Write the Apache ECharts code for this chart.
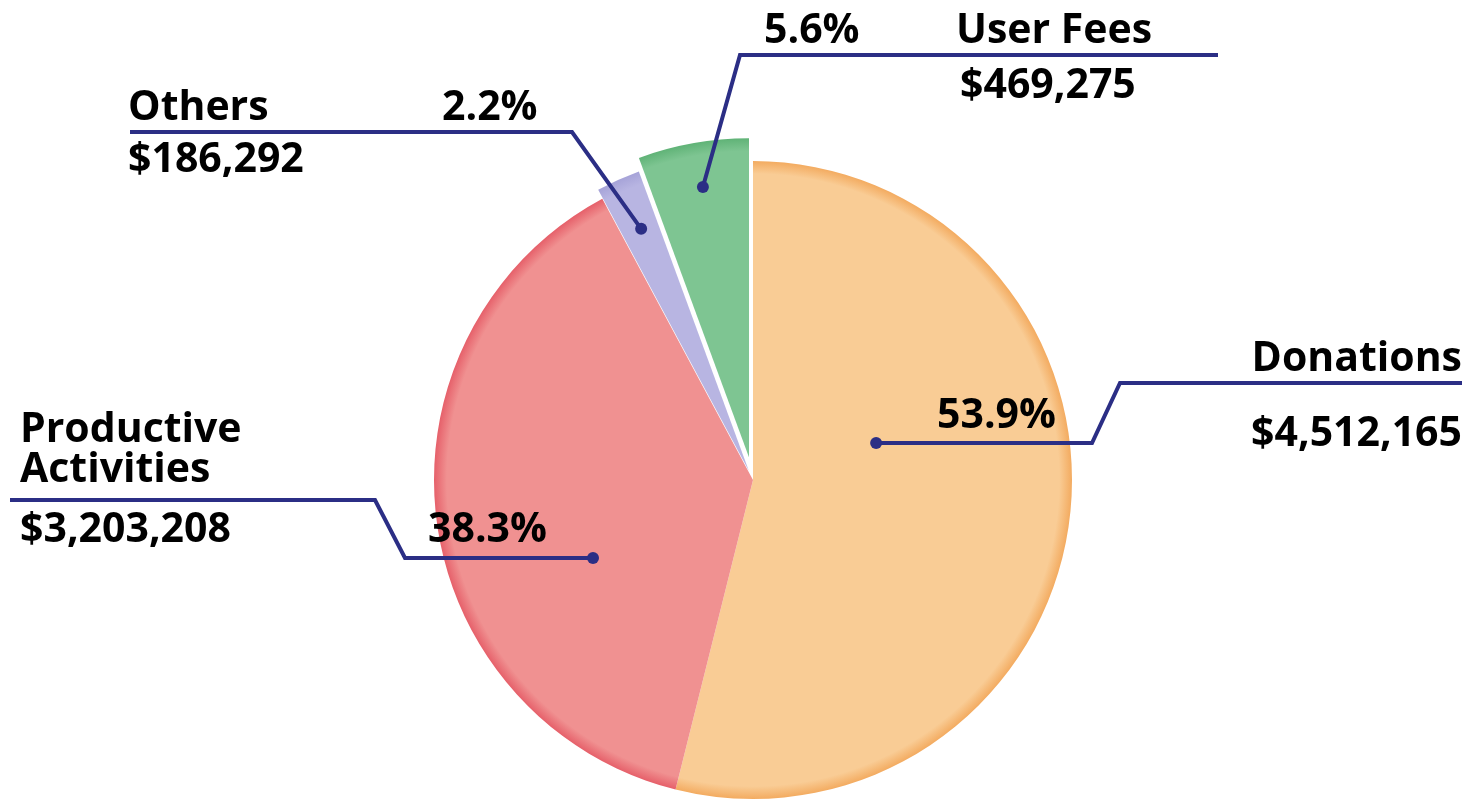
<!DOCTYPE html>
<html>
<head>
<meta charset="utf-8">
<script src="https://cdn.jsdelivr.net/npm/echarts@6/dist/echarts.min.js"></script>
<style>
  html, body { margin: 0; padding: 0; background: #fff; }
  #chart { width: 1474px; height: 804px; }
</style>
</head>
<body>
<div id="chart"></div>
<script>
// data
const categories = ['Donations', 'Productive Activities', 'Others', 'User Fees']
const amounts = [4512165, 3203208, 186292, 469275]
const sliceColors = ['#f9cc95', '#f09191', '#b8b5e2', '#7ec592']
const rimColors = ['#f3ab60', '#e6606a', '#a6a3d8', '#60b377']
const explode = [0, 0, 10, 23]

// pie geometry
const CX = 753, CY = 480, R = 319
const NAVY = '#2b2e85'
const FONT = '"Open Sans", "Noto Sans", sans-serif'
const FS = 41

const total = amounts.reduce((a, b) => a + b, 0)
const pct = amounts.map(v => (v / total * 100).toFixed(1) + '%')
const money = amounts.map(v => '$' + v.toLocaleString('en-US'))

function polar(angleDeg, frac) {
  const a = angleDeg * Math.PI / 180
  return [CX + Math.sin(a) * R * frac, CY - Math.cos(a) * R * frac]
}

function fill(i) {
  return new echarts.graphic.RadialGradient(CX, CY, R, [
    {offset: 0, color: sliceColors[i]},
    {offset: 0.96, color: sliceColors[i]},
    {offset: 1, color: rimColors[i]}
  ], true)
}

// one pie layer per explode distance, hidden slices transparent
function layer(offset) {
  return {
    type: 'pie',
    center: [CX, CY],
    radius: R,
    startAngle: 90,
    clockwise: true,
    silent: true,
    selectedMode: 'multiple',
    selectedOffset: offset,
    label: {show: false},
    labelLine: {show: false},
    emphasis: {disabled: true},
    data: categories.map((name, i) => ({
      name: name,
      value: amounts[i],
      selected: explode[i] === offset && offset > 0,
      itemStyle: {
        color: explode[i] === offset ? fill(i) : 'rgba(0,0,0,0)',
        borderWidth: 0
      }
    }))
  }
}

// callout layout: dot anchor (angle from top, radius fraction), leader path, text spots
const callouts = [
  {
    anchor: [73.3, 0.403],
    path: [[1092, 443], [1120, 383], [1462, 383]],
    pct: [937, 416, 'left'],
    name: [1462, 359, 'right'],
    amount: [1462, 434, 'right']
  },
  {
    anchor: [244, 0.558],
    path: [[405, 558], [375, 500], [10, 500]],
    pct: [428, 530, 'left'],
    name: [20, 450, 'left'],
    amount: [20, 530, 'left']
  },
  {
    anchor: [336, 0.862],
    path: [[572, 132], [130, 132]],
    pct: [442, 108, 'left'],
    name: [128, 108, 'left'],
    amount: [128, 160, 'left']
  },
  {
    anchor: [350.3, 0.932],
    path: [[740, 55], [1218, 55]],
    pct: [764, 31, 'left'],
    name: [956, 31, 'left'],
    amount: [960, 86, 'left']
  }
]

function txt(text, spot, lh) {
  return {
    type: 'text',
    x: spot[0],
    y: spot[1],
    z: 100,
    silent: true,
    style: {
      text: text,
      fill: '#000',
      font: '700 ' + FS + 'px ' + FONT,
      align: spot[2],
      verticalAlign: 'middle',
      lineHeight: lh || FS
    }
  }
}

const graphics = []
callouts.forEach((c, i) => {
  const dot = polar(c.anchor[0], c.anchor[1])
  graphics.push({
    type: 'polyline',
    z: 100,
    silent: true,
    shape: {points: [dot].concat(c.path)},
    style: {stroke: NAVY, lineWidth: 4, fill: null}
  })
  graphics.push({
    type: 'circle',
    z: 101,
    silent: true,
    shape: {cx: dot[0], cy: dot[1], r: 6},
    style: {fill: NAVY}
  })
  graphics.push(txt(pct[i], c.pct))
  const nm = categories[i] === 'Productive Activities' ? 'Productive\nActivities' : categories[i]
  graphics.push(txt(nm, c.name, 40))
  graphics.push(txt(money[i], c.amount))
})

const chart = echarts.init(document.getElementById('chart'))
chart.setOption({
  animation: false,
  backgroundColor: '#fff',
  series: [layer(0), layer(10), layer(23)],
  graphic: {elements: graphics}
})
window.addEventListener('resize', () => chart.resize())
</script>
</body>
</html>
